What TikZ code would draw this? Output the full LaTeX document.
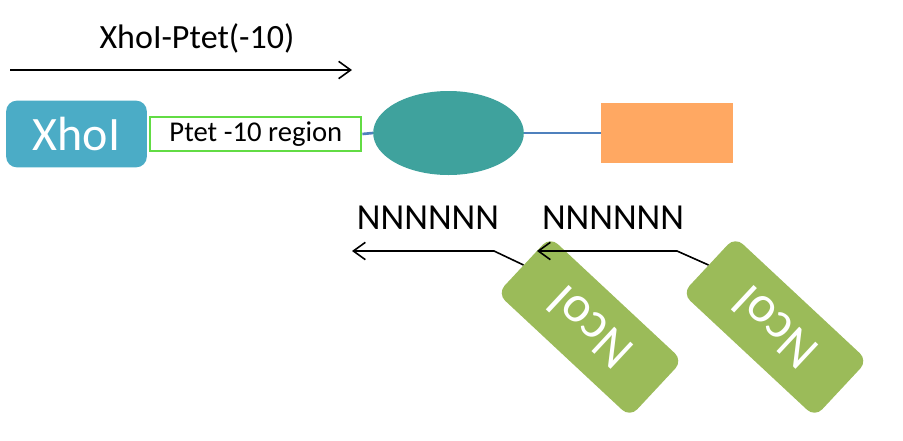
\documentclass[tikz,border=0pt]{standalone}
\usepackage{fontspec}
\setmainfont{Carlito}
\usepackage{tikz}
\usetikzlibrary{arrows.meta, positioning, shapes}

\definecolor{xhoblue}{HTML}{4BACC6}
\definecolor{boxgreen}{HTML}{62DC44}
\definecolor{linkblue}{HTML}{4F81BD}
\definecolor{enzteal}{HTML}{3FA29D}
\definecolor{partorange}{HTML}{FFA862}
\definecolor{ncogreen}{HTML}{9BBB59}

\tikzset{
    site/.style={rounded corners=8pt, inner sep=0pt, text=white, font=\fontsize{36}{40}\selectfont},
    seq/.style={font=\fontsize{27.5}{30}\selectfont, inner sep=0pt},
    link/.style={draw=linkblue, line width=2pt},
    primer/.style={-{Straight Barb[length=9pt, width=13pt]}, line width=1.2pt}
}

\begin{document}
\begin{tikzpicture}[x=0.75pt, y=-0.75pt]
    \useasboundingbox (0,0) rectangle (903,440);

    % 上方正向引物
    \node (title) at (197,38) {\fontsize{25.5}{28}\selectfont XhoI-Ptet(-10)};
    \coordinate (fwdS) at (10,70);
    \coordinate (fwdE) at (352,70);
    \draw[primer] (fwdS) -- (fwdE);

    % 构建体：XhoI, Ptet -10 区, 椭圆, 橙色块
    \node[site, fill=xhoblue, minimum width=105.5pt, minimum height=50pt] (xhoi) at (76.5,134) {XhoI};
    \node[draw=boxgreen, line width=1.5pt, minimum width=158.5pt, minimum height=26pt, inner sep=0pt,
          font=\fontsize{21.5}{24}\selectfont] (ptet) [right=1.5pt of xhoi] {Ptet -10 region};
    \node[ellipse, fill=enzteal, minimum width=113pt, minimum height=63pt] (enz) at (448.5,133) {};
    \node[fill=partorange, minimum width=99pt, minimum height=45pt, inner sep=0pt] (orf) at (667,133) {};
    \draw[link] (ptet.east) -- (enz.west);
    \draw[link] (enz.east) -- (orf.west);

    % 反向引物
    \node[seq] (nA) at (428,218) {NNNNNN};
    \node[seq] (nB) at (613,218) {NNNNNN};
    \node[site, fill=ncogreen, rotate=137, minimum width=136pt, minimum height=58pt,
          font=\fontsize{39}{42}\selectfont] (ncoA) at (590,327) {NcoI};
    \node[site, fill=ncogreen, rotate=137, minimum width=136pt, minimum height=58pt,
          font=\fontsize{39}{42}\selectfont] (ncoB) at (775,327) {NcoI};
    \coordinate (bendA) at (494,251);
    \coordinate (tipA) at (352,251);
    \coordinate (bendB) at (677,251);
    \coordinate (tipB) at (537,251);
    \draw[primer] (ncoA.east) -- (bendA) -- (tipA);
    \draw[primer] (ncoB.east) -- (bendB) -- (tipB);
\end{tikzpicture}
\end{document}
